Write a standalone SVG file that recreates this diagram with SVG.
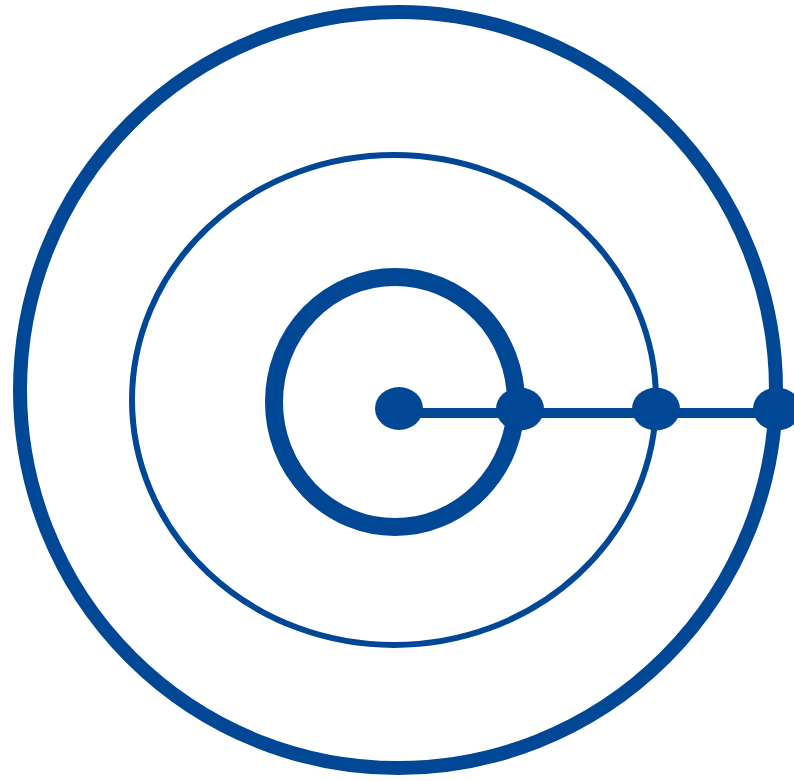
<svg xmlns="http://www.w3.org/2000/svg" width="794" height="781" viewBox="0 0 794 781">
<style>
.ring{fill:none;stroke:#004795}
.dot{fill:#004795}
</style>
<rect width="794" height="781" fill="#ffffff"/>
<g id="outer"><ellipse class="ring" cx="398" cy="390" rx="378" ry="378" stroke-width="14"/></g>
<g id="middle"><ellipse class="ring" cx="394" cy="400" rx="262" ry="245" stroke-width="6"/></g>
<g id="inner"><ellipse class="ring" cx="395" cy="402" rx="121" ry="125" stroke-width="18"/></g>
<g id="connectors"><line x1="400" y1="413" x2="794" y2="413" stroke="#004795" stroke-width="10"/></g>
<g id="dot1"><ellipse class="dot" cx="399" cy="408.5" rx="24" ry="21.5"/></g>
<g id="dot2"><ellipse class="dot" cx="520" cy="409" rx="24" ry="21.5"/></g>
<g id="dot3"><ellipse class="dot" cx="656" cy="409" rx="24" ry="21.5"/></g>
<g id="dot4"><ellipse class="dot" cx="777" cy="409" rx="24" ry="21.5"/></g>
</svg>
